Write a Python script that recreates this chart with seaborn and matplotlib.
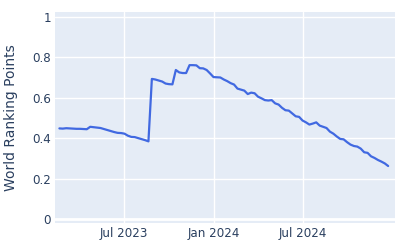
import matplotlib
matplotlib.use("Agg")
import matplotlib.pyplot as plt
import matplotlib.dates as mdates
import matplotlib.ticker as mticker
import pandas as pd
import seaborn as sns

start_date = "2023-02-19"
n_weeks = 97
points = [
    0.448, 0.447, 0.449, 0.448, 0.447, 0.446, 0.446, 0.445, 0.444, 0.456,
    0.454, 0.452, 0.450, 0.445, 0.440, 0.435, 0.430, 0.426, 0.425, 0.422,
    0.412, 0.406, 0.405, 0.400, 0.395, 0.390, 0.384, 0.693, 0.690, 0.685,
    0.680, 0.670, 0.667, 0.666, 0.737, 0.725, 0.722, 0.722, 0.761, 0.761,
    0.760, 0.746, 0.745, 0.737, 0.720, 0.702, 0.701, 0.700, 0.690, 0.682,
    0.672, 0.665, 0.645, 0.640, 0.635, 0.618, 0.625, 0.622, 0.605, 0.597,
    0.588, 0.586, 0.588, 0.572, 0.566, 0.550, 0.538, 0.536, 0.522, 0.508,
    0.505, 0.487, 0.478, 0.467, 0.472, 0.478, 0.462, 0.456, 0.450, 0.432,
    0.422, 0.408, 0.396, 0.394, 0.380, 0.368, 0.361, 0.358, 0.348, 0.330,
    0.327, 0.310, 0.302, 0.292, 0.284, 0.275, 0.262,
]
y_ticks = [0, 0.2, 0.4, 0.6, 0.8, 1]
y_tick_labels = ["0", "0.2", "0.4", "0.6", "0.8", "1"]
x_tick_dates = ["2023-07-01", "2024-01-01", "2024-07-01"]
x_tick_labels = ["Jul 2023", "Jan 2024", "Jul 2024"]

dates = pd.date_range(start_date, periods=n_weeks, freq="7D")
df = pd.DataFrame({"date": dates, "points": points})

sns.set_theme(style="darkgrid")
text_color = "#2a3f5f"
fig = plt.figure(figsize=(4, 2.5), dpi=100)
ax = fig.add_axes([55/400, 1 - 223/250, 340/400, 211/250])
ax.set_facecolor("#E5ECF6")
sns.lineplot(data=df, x="date", y="points", ax=ax, color="#4169E1", linewidth=1.6)

ax.set_xlim(pd.Timestamp("2023-02-10"), pd.Timestamp("2025-01-05"))
ax.set_ylim(-0.02, 1.024)
ax.set_yticks(y_ticks)
ax.set_yticklabels(y_tick_labels)
ax.set_xticks([pd.Timestamp(d) for d in x_tick_dates])
ax.set_xticklabels(x_tick_labels)
ax.grid(True, color="white", linewidth=1.0)
ax.axhline(0, color="white", linewidth=2.0, zorder=1)
for s in ax.spines.values():
    s.set_visible(False)
ax.tick_params(axis="both", colors=text_color, labelsize=8.6, length=0, pad=3)
ax.set_xlabel("")
ax.set_ylabel("World Ranking Points", color=text_color, fontsize=10, labelpad=10)
fig.savefig("out.png", dpi=100)
